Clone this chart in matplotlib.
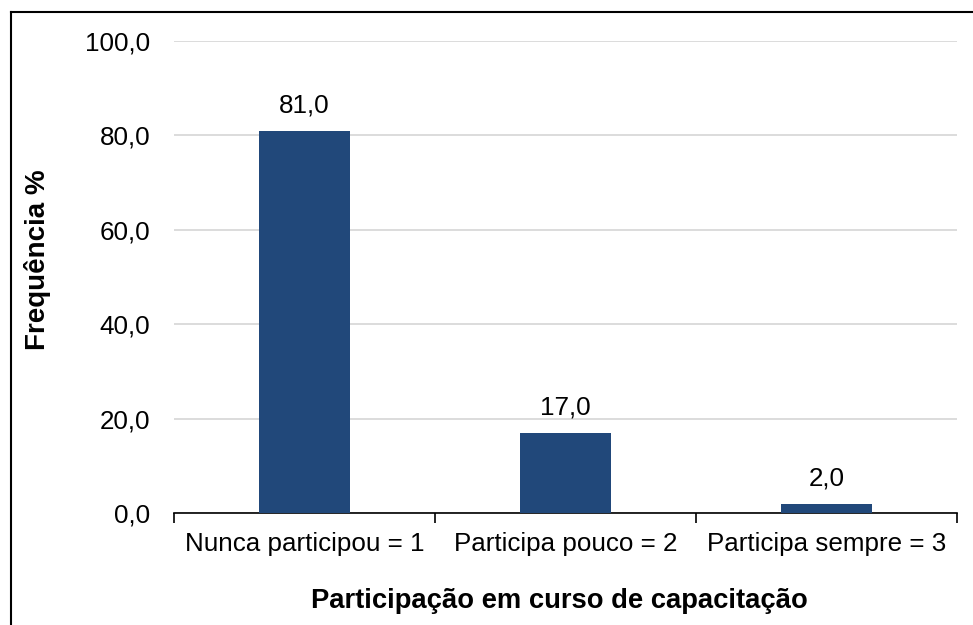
import numpy as np
import matplotlib.pyplot as plt
from matplotlib.lines import Line2D

plt.rcParams['font.family'] = ['Liberation Sans', 'DejaVu Sans']

categorias = ['Nunca participou = 1', 'Participa pouco = 2', 'Participa sempre = 3']
frequencia = [81.0, 17.0, 2.0]
yticks = [0, 20, 40, 60, 80, 100]

fig = plt.figure(figsize=(9.73, 6.25), dpi=100)
ax = fig.add_axes([174/973, 1 - 513/625, (957-174)/973, (513-41)/625])

x = np.arange(len(categorias))
ax.bar(x, frequencia, width=0.345, color='#21487A', zorder=3)
for xi, v in zip(x, frequencia):
    ax.text(xi, v + 2.8, f'{v:.1f}'.replace('.', ','), ha='center', va='bottom', fontsize=18.7)

ax.set_xlim(-0.5, len(categorias) - 0.5)
ax.set_ylim(0, 100)
ax.set_yticks(yticks)
ax.set_yticklabels([f'{t:.1f}'.replace('.', ',') for t in yticks], fontsize=18.7)
ax.tick_params(axis='y', length=0, pad=17)
ax.yaxis.grid(True, color='#D9D9D9', linewidth=1.3, zorder=0)
ax.set_axisbelow(True)

# category ticks at boundaries, labels centred
ax.set_xticks(np.arange(len(categorias) + 1) - 0.5)
ax.set_xticklabels([])
ax.set_xticks(x, minor=True)
ax.set_xticklabels(categorias, minor=True, fontsize=18.7)
ax.tick_params(axis='x', which='major', length=7, width=1.2, direction='out', color='black')
ax.tick_params(axis='x', which='minor', length=0, pad=14)

for s in ['top', 'right', 'left']:
    ax.spines[s].set_visible(False)
ax.spines['bottom'].set_color('black')
ax.spines['bottom'].set_linewidth(1.2)

fig.text(559/973, 1 - 601/625, 'Participação em curso de capacitação',
         ha='center', va='center', fontsize=19.7, fontweight='bold')
fig.text(38/973, 1 - 260/625, 'Frequência %', ha='center', va='center',
         rotation=90, fontsize=20, fontweight='bold')

# outer frame (only left and top visible)
fig.add_artist(Line2D([10.5/973, 10.5/973], [0, 1 - 11.5/625], transform=fig.transFigure, color='black', linewidth=1.5))
fig.add_artist(Line2D([10.5/973, 1], [1 - 11.5/625, 1 - 11.5/625], transform=fig.transFigure, color='black', linewidth=1.5))

fig.savefig('out.png', dpi=100)
